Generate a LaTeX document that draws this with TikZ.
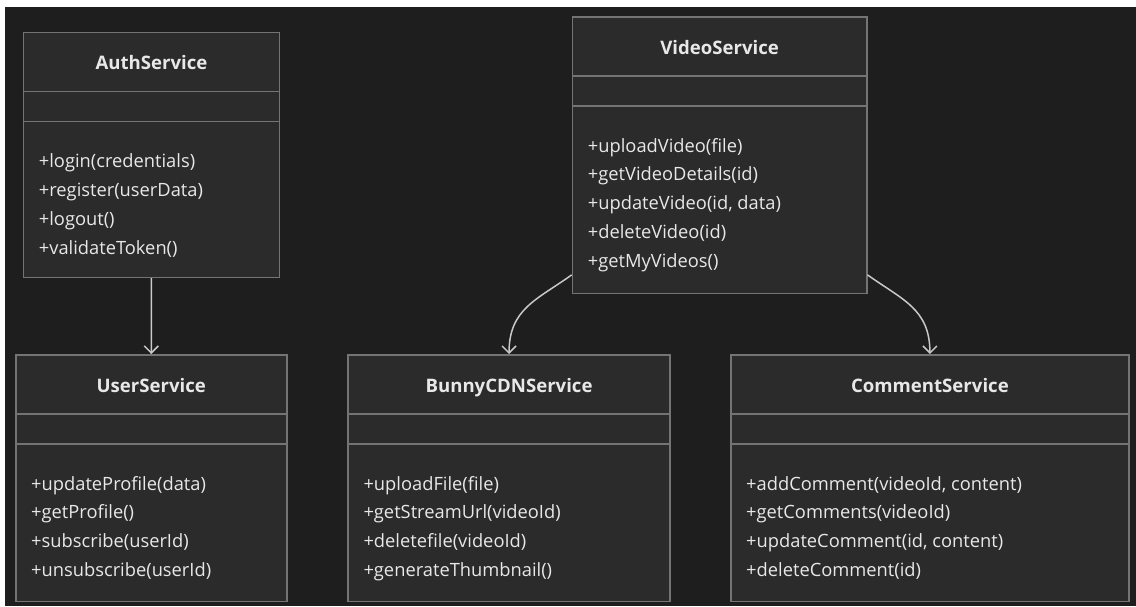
\documentclass[tikz,border=0pt]{standalone}
\usepackage{fontspec}
\setmainfont{Open Sans}
\usetikzlibrary{arrows.meta,calc}
\definecolor{canvas}{HTML}{1E1E1E}
\definecolor{boxfill}{HTML}{2B2B2B}
\definecolor{boxline}{HTML}{747474}
\definecolor{ink}{HTML}{E8E8E8}
\definecolor{wire}{HTML}{C8C8C8}

% One UML class: name, north-west corner, width, height, title, members
\newcommand\umlclass[6]{%
  \node[classbox, minimum width=#3pt, minimum height=#4pt] (#1) at #2 {};
  \node[classname] (#1-name) at ($(#1.north)+(0,38)$) {#5};
  \draw[sep] ($(#1.north west)+(0,60)$) -- ($(#1.north east)+(0,60)$);
  \draw[sep] ($(#1.north west)+(0,90)$) -- ($(#1.north east)+(0,90)$);
  \foreach \m [count=\i] in {#6} {
    \node[member] (#1-m\i) at ($(#1.north west)+(16,{136+(\i-1)*28.8})$) {\m};
  }%
}

\begin{document}
\begin{tikzpicture}[x=1pt,y=-1pt,
  classbox/.style={draw=boxline, fill=boxfill, line width=1.5pt, inner sep=0pt, anchor=north west},
  sep/.style={draw=boxline, line width=1.5pt},
  classname/.style={text=ink, font=\fontsize{18.6}{22}\selectfont\bfseries, anchor=base, inner sep=0pt},
  member/.style={text=ink, font=\fontsize{18.3}{22}\selectfont, anchor=base west, inner sep=0pt},
  dep/.style={draw=wire, line width=1.5pt, -{Straight Barb[length=7pt,width=14pt,line width=1.5pt]}}
]
\useasboundingbox (0,0) rectangle (1136,606);
\fill[white] (0,0) rectangle (1136,606);
\fill[canvas] (5,7) rectangle (1136,606);

\umlclass{auth}{(22.7,31.7)}{256}{245}{AuthService}%
  {+login(credentials),+register(userData),+logout(),+validateToken()}
\umlclass{video}{(571.7,16)}{294.3}{276.7}{VideoService}%
  {+uploadVideo(file),+getVideoDetails(id),{+updateVideo(id, data)},+deleteVideo(id),+getMyVideos()}
\umlclass{user}{(15,354)}{271}{246.7}{UserService}%
  {+updateProfile(data),+getProfile(),+subscribe(userId),+unsubscribe(userId)}
\umlclass{bunny}{(347.3,354)}{322}{246.7}{BunnyCDNService}%
  {+uploadFile(file),+getStreamUrl(videoId),+deletefile(videoId),+generateThumbnail()}
\umlclass{comment}{(730,354)}{398.3}{246.7}{CommentService}%
  {{+addComment(videoId, content)},+getComments(videoId),{+updateComment(id, content)},+deleteComment(id)}

\draw[dep] (auth.south) -- (user.north);
\draw[dep] (video.219) .. controls +(-35,25) and +(0,-45) .. (bunny.north);
\draw[dep] (video.-39) .. controls +(35,25) and +(0,-45) .. (comment.north);
\end{tikzpicture}
\end{document}
